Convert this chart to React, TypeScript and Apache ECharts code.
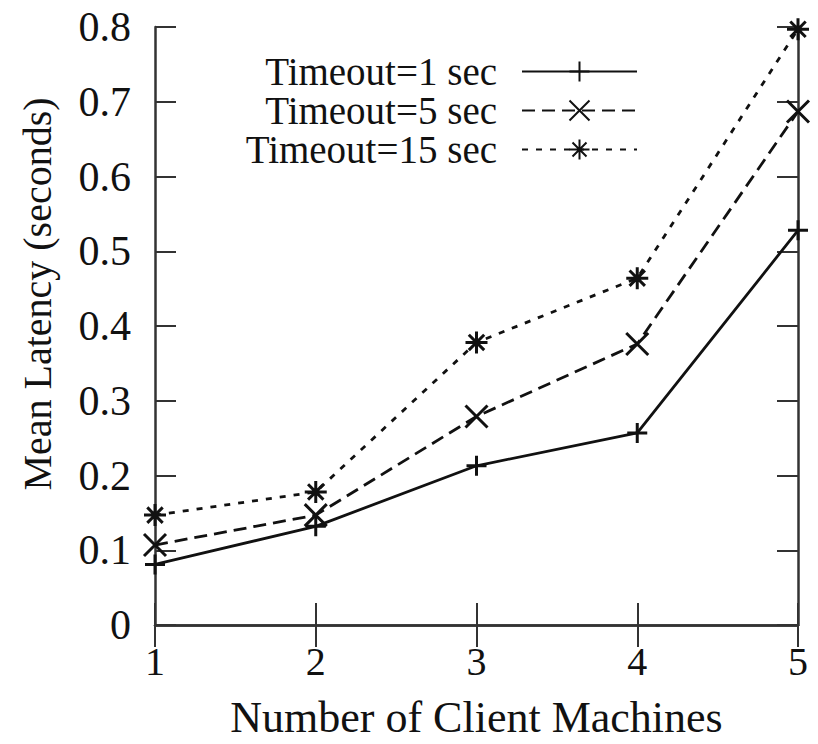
import React, { useEffect, useRef } from "react";
import * as echarts from "echarts";

// Number of client machines on the x axis
const machines = [1, 2, 3, 4, 5];

// Mean latency (seconds) for each timeout setting
const timeout1 = [0.081, 0.132, 0.213, 0.257, 0.528];
const timeout5 = [0.107, 0.147, 0.279, 0.376, 0.687];
const timeout15 = [0.147, 0.178, 0.378, 0.464, 0.797];

const seriesNames = ["Timeout=1 sec", "Timeout=5 sec", "Timeout=15 sec"];

const xTitle = "Number of Client Machines";
const yTitle = "Mean Latency (seconds)";

const FONT = "'Liberation Serif', 'Times New Roman', serif";
const INK = "#111";

// gnuplot-like point shapes: plus, cross, asterisk
const PLUS = "path://M0,-10L0,10M-10,0L10,0";
const CROSS = "path://M-10,-10L10,10M-10,10L10,-10";
const STAR = "path://M0,-10L0,10M-10,0L10,0M-7,-7L7,7M-7,7L7,-7";

const pairs = (ys: number[]) => machines.map((x, i) => [x, ys[i]]);

export default function App() {
  const ref = useRef<HTMLDivElement>(null);

  useEffect(() => {
    if (!ref.current) return;
    const chart = echarts.init(ref.current, null, { renderer: "svg" });

    const frameLine = { show: true, lineStyle: { color: "#333", width: 2.5 } };
    const innerTick = (len: number) => ({
      show: true,
      inside: true,
      length: len,
      lineStyle: { color: "#333", width: 2 },
    });

    const lineSeries = (
      name: string,
      ys: number[],
      symbol: string,
      size: number,
      type: any
    ) => ({
      name,
      type: "line",
      data: pairs(ys),
      xAxisIndex: 0,
      yAxisIndex: 0,
      symbol,
      symbolSize: size,
      lineStyle: { color: INK, width: 2.8, type },
      itemStyle: { color: INK, borderColor: INK, borderWidth: 3 },
      emphasis: { disabled: true },
    });

    chart.setOption({
      animation: false,
      backgroundColor: "#fff",
      grid: { left: 155, right: 20, top: 27, bottom: 111 },
      legend: {
        orient: "vertical",
        align: "right",
        right: 175,
        top: 47,
        itemWidth: 115,
        itemHeight: 25,
        itemGap: 0,
        data: seriesNames,
        textStyle: {
          fontFamily: FONT,
          fontSize: 39,
          color: INK,
          padding: [0, 20, 0, 0],
        },
      },
      xAxis: [
        {
          type: "value",
          position: "bottom",
          min: 1,
          max: 5,
          interval: 1,
          name: xTitle,
          nameLocation: "middle",
          nameGap: 70,
          nameTextStyle: { fontFamily: FONT, fontSize: 44, color: INK },
          axisLine: frameLine,
          axisTick: innerTick(22),
          axisLabel: {
            fontFamily: FONT,
            fontSize: 40,
            color: INK,
            margin: 16,
          },
          splitLine: { show: false },
        },
        {
          type: "value",
          position: "top",
          min: 1,
          max: 5,
          interval: 1,
          axisLine: frameLine,
          axisTick: innerTick(22),
          axisLabel: { show: false },
          splitLine: { show: false },
        },
      ],
      yAxis: [
        {
          type: "value",
          position: "left",
          min: 0,
          max: 0.8,
          interval: 0.1,
          name: yTitle,
          nameLocation: "middle",
          nameGap: 98,
          nameRotate: 90,
          nameTextStyle: {
            fontFamily: FONT,
            fontSize: 40,
            color: INK,
            padding: [0, 0, 0, 64],
          },
          axisLine: frameLine,
          axisTick: innerTick(21),
          axisLabel: {
            fontFamily: FONT,
            fontSize: 42,
            color: INK,
            margin: 24,
          },
          splitLine: { show: false },
        },
        {
          type: "value",
          position: "right",
          min: 0,
          max: 0.8,
          interval: 0.1,
          axisLine: frameLine,
          axisTick: innerTick(21),
          axisLabel: { show: false },
          splitLine: { show: false },
        },
      ],
      series: [
        lineSeries(seriesNames[0], timeout1, PLUS, 20, "solid"),
        lineSeries(seriesNames[1], timeout5, CROSS, 22, [13, 7]),
        lineSeries(seriesNames[2], timeout15, STAR, 22, [6, 8]),
      ],
    });

    return () => chart.dispose();
  }, []);

  return (
    <div
      ref={ref}
      style={{ position: "absolute", left: 0, top: 0, width: 818, height: 744 }}
    />
  );
}
